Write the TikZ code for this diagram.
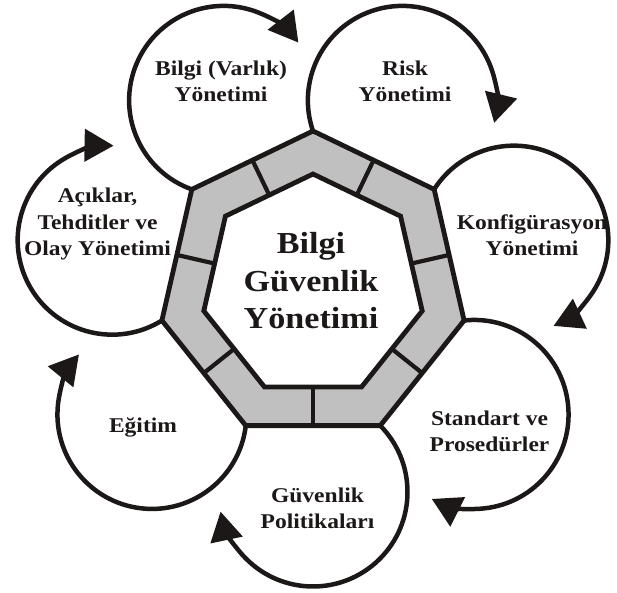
\documentclass[tikz,border=0pt]{standalone}
\usepackage{fontspec}
\setmainfont{Liberation Serif}[FakeStretch=1.12]
\usetikzlibrary{arrows.meta}
\definecolor{bandgray}{RGB}{192,192,192}
\definecolor{ink}{RGB}{28,24,24}
\begin{document}
\begin{tikzpicture}[x=1pt,y=1pt,
  cyc/.style={line width=4.5pt, draw=ink, -{Triangle[length=29pt,width=32pt]}},
  lbl/.style={align=center, font=\fontsize{21}{26.5}\selectfont\bfseries, text=ink, inner sep=0pt},
  big/.style={align=center, font=\fontsize{30.5}{37.5}\selectfont\bfseries, text=ink, inner sep=0pt},
  hept/.style={line width=4.8pt, draw=ink, line join=miter},
  divider/.style={line width=4.2pt, draw=ink}]
\useasboundingbox (0,0) rectangle (617,592);
\coordinate (O) at (313,306);
\begin{scope}[shift={(O)}]
  % cycle arcs
  \foreach \k in {0,...,6}{
    \pgfmathsetmacro\ph{64.2857-\k*51.4286}
    \pgfmathsetmacro\sa{\ph+134.6}
    \pgfmathsetmacro\ea{\ph-78}
    \draw[cyc] ([shift={(\ph:206pt)}]\sa:94.5pt) arc[start angle=\sa, end angle=\ea, radius=94.5pt];
  }
  % band
  \filldraw[hept, fill=bandgray] (90:155pt) \foreach \k in {1,...,6}{ -- ({90+\k*51.4286}:155pt)} -- cycle;
  \filldraw[hept, fill=white] (90:112pt) \foreach \k in {1,...,6}{ -- ({90+\k*51.4286}:112pt)} -- cycle;
  \foreach \k in {0,...,6}{
    \draw[divider] ({64.2857-\k*51.4286}:99pt) -- ({64.2857-\k*51.4286}:141pt);
  }
\end{scope}
% labels
\node[big] (core) at (311,311) {Bilgi\\Güvenlik\\Yönetimi};
\node[lbl] (varlik) at (221,510.5) {Bilgi (Varlık)\\Yönetimi};
\node[lbl] (risk) at (405,510.5) {Risk\\Yönetimi};
\node[lbl] (konf) at (532,357) {Konfigürasyon\\Yönetimi};
\node[lbl] (std) at (489.5,160.5) {Standart ve\\Prosedürler};
\node[lbl] (pol) at (317.5,83.5) {Güvenlik\\Politikaları};
\node[lbl] (egt) at (143,165) {Eğitim};
\node[lbl] (acik) at (97.5,368) {Açıklar,\\Tehditler ve\\Olay Yönetimi};
\end{tikzpicture}
\end{document}
